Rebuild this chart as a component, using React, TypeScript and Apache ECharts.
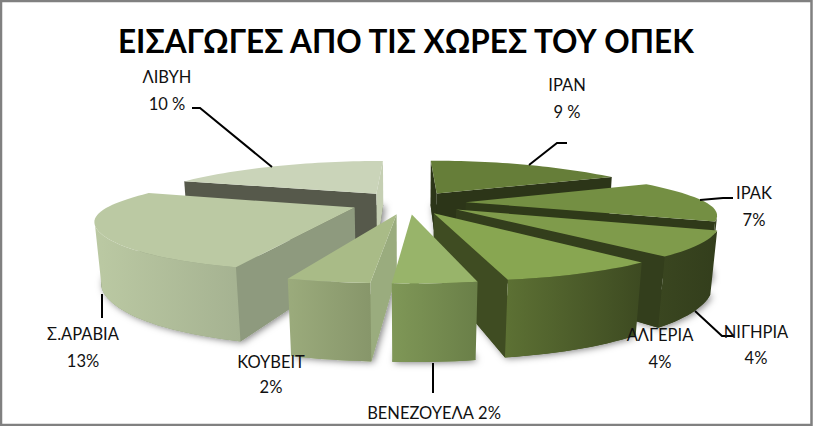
import React, { useEffect, useRef } from "react";
import * as echarts from "echarts";

const titleText = "ΕΙΣΑΓΩΓΕΣ ΑΠΟ ΤΙΣ ΧΩΡΕΣ ΤΟΥ ΟΠΕΚ";
const categories = ["ΙΡΑΝ", "ΙΡΑΚ", "ΝΙΓΗΡΙΑ", "ΑΛΓΕΡΙΑ", "ΒΕΝΕΖΟΥΕΛΑ", "ΚΟΥΒΕΙΤ", "Σ.ΑΡΑΒΙΑ", "ΛΙΒΥΗ"];
const values = [9, 7, 4, 4, 2, 2, 13, 10];
const percentLabels = ["9 %", "7%", "4%", "4%", "2%", "2%", "13%", "10 %"];

const topColors = ["#667e39", "#748f43", "#7f9b4b", "#88a651", "#98b46a", "#a9bb87", "#bbc9a3", "#cad4b9"];
const wallStartColors = ["#2c3518", "#2f3a19", "#333e1c", "#3f4c22", "#6b8049", "#9aac7e", "#8e9a7e", "#56594b"];
const wallEndColors = ["#2c3518", "#2f3a19", "#333e1c", "#3f4c22", "#6b8049", "#9aac7e", "#8e9a7e", "#c5cfb3"];
const outerLeftColors = ["#3a4620", "#3a4620", "#3a4620", "#5d7134", "#7f9757", "#9bab7c", "#bbc9a3", "#b6c19f"];
const outerRightColors = ["#333e1c", "#333e1c", "#333e1c", "#3d4a21", "#6a7f48", "#87966a", "#a5b291", "#a5b291"];

// Camera of the tilted pie (radius of the pie = 1)
const cam = { vx: 408, hy: 21, F: 841, cx: 0.41, G: 735, Gb: 979, D: 4.05, dz: 0.07, explode: 0.25, bulge: 0.04 };

// Text placement: [centre x, first-line y, second-line y]
const labelPlaces: Record<number, number[]> = {
  0: [567, 85, 112],
  1: [754, 193, 220],
  2: [756, 332, 358],
  3: [660, 335, 362],
  5: [271, 362, 387],
  6: [83, 334, 361],
  7: [167, 77, 104],
};
const venezuelaPlace = [434, 413];
const leaderLines = [
  [[567, 143], [557, 143], [529, 165]],
  [[733, 198], [723, 198], [700, 200]],
  [[695, 311], [722, 336], [733, 336]],
  [[433, 363], [433, 393]],
  [[102, 294], [102, 318]],
  [[192, 108], [200, 108], [272, 167]],
];

const total = values.reduce((a, b) => a + b, 0);
const startAngles: number[] = [];
values.reduce((acc, v, i) => {
  startAngles[i] = (acc / total) * Math.PI * 2;
  return acc + v;
}, 0);

function project(x: number, toward: number, bottom: boolean): number[] {
  const w = cam.D - toward + (bottom ? cam.dz : 0);
  return [cam.vx + (cam.F * x) / (w - cam.cx), cam.hy + (bottom ? cam.Gb : cam.G) / w];
}

function cross(a: number[], b: number[], c: number[]) {
  return (b[0] - a[0]) * (c[1] - b[1]) - (b[1] - a[1]) * (c[0] - b[0]);
}

function renderSlice(params: any) {
  const i = params.dataIndex;
  const a0 = startAngles[i];
  const a1 = a0 + (values[i] / total) * Math.PI * 2;
  const mid = (a0 + a1) / 2;
  const ox = cam.explode * Math.sin(mid);
  const oy = -cam.explode * Math.cos(mid);
  const steps = Math.max(4, Math.ceil((a1 - a0) / (Math.PI / 90)));
  const rimTop: number[][] = [];
  const rimBot: number[][] = [];
  for (let s = 0; s <= steps; s++) {
    const t = a0 + ((a1 - a0) * s) / steps;
    const sx = Math.sin(t) * (1 + cam.bulge * Math.pow(Math.sin(t), 8));
    rimTop.push(project(ox + sx, oy - Math.cos(t), false));
    rimBot.push(project(ox + sx, oy - Math.cos(t), true));
  }
  const apexTop = project(ox, oy, false);
  const apexBot = project(ox, oy, true);
  const base = Math.round((1 - Math.cos(mid)) * 100) * 10;
  const children: any[] = [];
  children.push({
    type: "polygon",
    z2: base,
    shape: { points: [apexBot, ...rimBot] },
    style: {
      fill: wallStartColors[i],
      shadowBlur: 7,
      shadowColor: "rgba(0,0,0,0.5)",
      shadowOffsetX: 2,
      shadowOffsetY: 1,
    },
  });
  // radial walls, only when they face the camera
  if (cross(apexTop, rimTop[0], rimBot[0]) < 0) {
    children.push({
      type: "polygon",
      z2: base + 1,
      shape: { points: [apexTop, rimTop[0], rimBot[0], apexBot] },
      style: { fill: wallStartColors[i] },
    });
  }
  if (cross(apexTop, rimTop[steps], rimBot[steps]) > 0) {
    children.push({
      type: "polygon",
      z2: base + 1,
      shape: { points: [apexTop, rimTop[steps], rimBot[steps], apexBot] },
      style: { fill: wallEndColors[i] },
    });
  }
  // outer wall
  const front: number[] = [];
  for (let s = 0; s <= steps; s++) {
    const prev = s < steps ? cross(rimTop[s], rimTop[s + 1], rimBot[s + 1]) : cross(rimTop[s - 1], rimTop[s], rimBot[s]);
    if (prev < 0) front.push(s);
  }
  if (front.length > 1) {
    const tops = front.map((s) => rimTop[s]);
    const bots = front.map((s) => rimBot[s]).reverse();
    children.push({
      type: "polygon",
      z2: base + 2,
      shape: { points: [...tops, ...bots] },
      style: {
        fill: new echarts.graphic.LinearGradient(0, 0, 1, 0, [
          { offset: 0, color: outerLeftColors[i] },
          { offset: 1, color: outerRightColors[i] },
        ]),
      },
    });
  }
  children.push({
    type: "polygon",
    z2: base + 3,
    shape: { points: [apexTop, ...rimTop] },
    style: { fill: topColors[i] },
  });
  return { type: "group", children };
}

const labelStyle = { fontFamily: "Lato", fontSize: 16.5, fill: "#111", textAlign: "center", textVerticalAlign: "middle" };

function labelElements() {
  const out: any[] = [];
  Object.keys(labelPlaces).forEach((k) => {
    const i = Number(k);
    const [x, y1, y2] = labelPlaces[i];
    out.push({ type: "text", z: 20, x, y: y1, style: { ...labelStyle, text: categories[i] } });
    out.push({ type: "text", z: 20, x, y: y2, style: { ...labelStyle, text: percentLabels[i] } });
  });
  out.push({
    type: "text",
    z: 20,
    x: venezuelaPlace[0],
    y: venezuelaPlace[1],
    style: { ...labelStyle, text: `${categories[4]} ${percentLabels[4]}` },
  });
  leaderLines.forEach((points) => {
    out.push({ type: "polyline", z: 15, shape: { points }, style: { stroke: "#000", lineWidth: 2, fill: "none" } });
  });
  return out;
}

export default function App() {
  const ref = useRef<HTMLDivElement>(null);
  useEffect(() => {
    document.body.style.margin = "0";
    const chart = echarts.init(ref.current!, null, { renderer: "svg" });
    chart.setOption({
      animation: false,
      backgroundColor: "#ffffff",
      title: {
        text: titleText,
        left: 113,
        top: 20,
        textStyle: { fontFamily: "Lato", fontWeight: "bold", fontSize: 31.5, color: "#000" },
      },
      graphic: [
        {
          type: "rect",
          z: 30,
          shape: { x: 1, y: 1, width: 810.5, height: 424 },
          style: { fill: "none", stroke: "#808080", lineWidth: 2.5 },
        },
        ...labelElements(),
      ],
      series: [
        {
          type: "custom",
          coordinateSystem: "none",
          silent: true,
          data: values,
          renderItem: renderSlice,
        },
      ],
    });
    return () => chart.dispose();
  }, []);
  return <div ref={ref} style={{ width: 813, height: 426 }} />;
}
